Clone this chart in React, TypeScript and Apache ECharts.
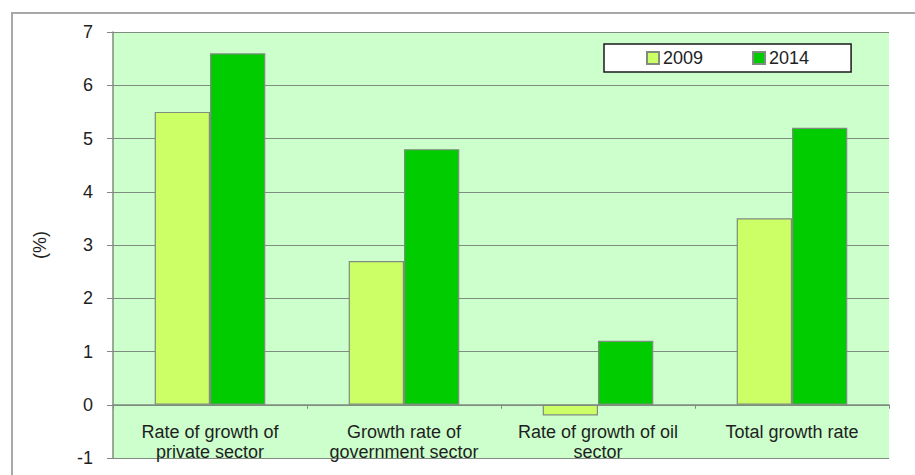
import React, { useEffect, useRef } from "react";
import * as echarts from "echarts";

const categories = [
  "Rate of growth of\nprivate sector",
  "Growth rate of\ngovernment sector",
  "Rate of growth of oil\nsector",
  "Total growth rate",
];
const seriesNames = ["2009", "2014"];
const values2009 = [5.5, 2.7, -0.2, 3.5];
const values2014 = [6.6, 4.8, 1.2, 5.2];
const yTicks = { min: -1, max: 7, interval: 1 };

export default function App() {
  const ref = useRef<HTMLDivElement>(null);
  useEffect(() => {
    if (!ref.current) return;
    const chart = echarts.init(ref.current, null, { renderer: "svg" });
    const font = "Liberation Sans, Arial, sans-serif";
    const gridTop = 32;
    const gridBottom = 17;
    const plotH = 475 - gridTop - gridBottom;
    const zeroOffset = -(plotH * (0 - yTicks.min)) / (yTicks.max - yTicks.min);
    chart.setOption({
      animation: false,
      backgroundColor: "#ffffff",
      textStyle: { fontFamily: font },
      graphic: [
        {
          type: "rect",
          shape: { x: 12, y: 13, width: 1000, height: 1000 },
          style: { fill: "none", stroke: "#a8a8a8", lineWidth: 2 },
          silent: true,
          z: -10,
        },
      ],
      grid: {
        left: 113,
        top: gridTop,
        right: 26,
        bottom: gridBottom,
        show: true,
        backgroundColor: "#ccffcc",
        borderWidth: 0,
        containLabel: false,
        outerBoundsMode: "none",
      },
      legend: {
        left: 604,
        top: 44,
        data: seriesNames,
        backgroundColor: "#ffffff",
        borderColor: "#1a1a1a",
        borderWidth: 1.5,
        padding: [5, 42, 5, 42],
        itemGap: 49,
        itemWidth: 12,
        itemHeight: 12,
        icon: "rect",
        textStyle: { fontSize: 18, color: "#222", fontFamily: font, padding: [0, 0, 0, -1] },
      },
      xAxis: {
        type: "category",
        data: categories,
        offset: zeroOffset,
        axisLine: { onZero: false, lineStyle: { color: "#7f8c7f", width: 1.5 } },
        axisTick: { show: true, length: 4, lineStyle: { color: "#7f8c7f" } },
        axisLabel: {
          fontSize: 18,
          color: "#1e1e1e",
          lineHeight: 20,
          margin: 17,
          interval: 0,
          fontFamily: font,
        },
      },
      yAxis: {
        type: "value",
        min: yTicks.min,
        max: yTicks.max,
        interval: yTicks.interval,
        name: "(%)",
        nameLocation: "middle",
        nameRotate: 90,
        nameGap: 64,
        nameTextStyle: { fontSize: 18, color: "#1e1e1e", fontFamily: font },
        axisLine: { show: true, lineStyle: { color: "#7f8c7f", width: 1.5 } },
        axisTick: { show: true, length: 6, lineStyle: { color: "#7f8c7f" } },
        axisLabel: { fontSize: 18, color: "#1e1e1e", margin: 20, fontFamily: font },
        splitLine: { show: true, lineStyle: { color: "#7f8c7f", width: 1.2 } },
      },
      series: [
        {
          name: seriesNames[0],
          type: "bar",
          data: values2009,
          barGap: "0%",
          barCategoryGap: "43%",
          itemStyle: { color: "#ccff66", borderColor: "#7f8c7f", borderWidth: 1.2 },
        },
        {
          name: seriesNames[1],
          type: "bar",
          data: values2014,
          barGap: "0%",
          barCategoryGap: "43%",
          itemStyle: { color: "#00cc00", borderColor: "#7f8c7f", borderWidth: 1.2 },
        },
      ],
    });
    return () => chart.dispose();
  }, []);
  return (
    <div
      ref={ref}
      style={{ position: "fixed", left: 0, top: 0, width: 915, height: 475 }}
    />
  );
}
